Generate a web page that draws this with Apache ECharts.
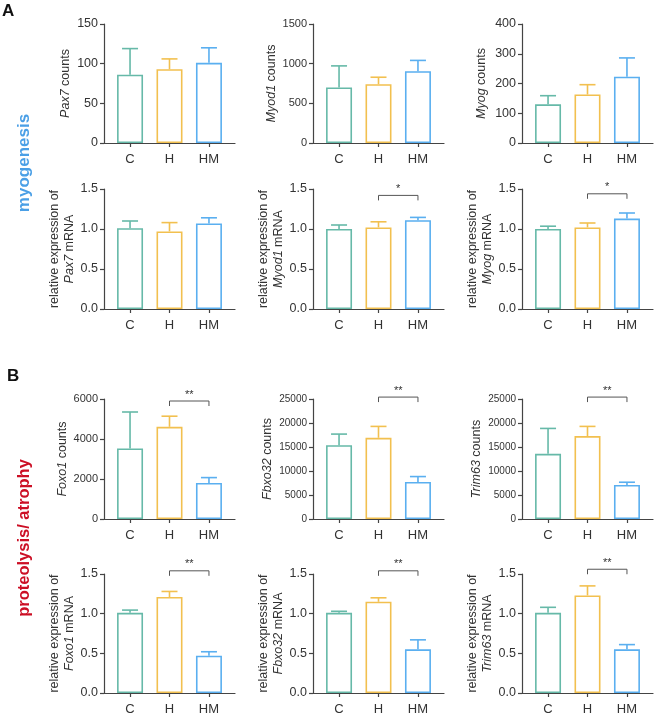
<!DOCTYPE html>
<html>
<head>
<meta charset="utf-8">
<script src="https://cdn.jsdelivr.net/npm/echarts@6/dist/echarts.min.js"></script>
<style>
  html, body { margin: 0; padding: 0; background: #fff; }
  #chart { width: 658px; height: 716px; }
</style>
</head>
<body>
<div id="chart"></div>
<script>
const categories = ["C", "H", "HM"];
const groupColors = ["#66b9a8", "#f2c04f", "#5aaff0"];

// means and upper error (SD)
const pax7Counts = [86, 93, 101];
const pax7CountsErr = [33, 13, 19];
const myod1Counts = [700, 741, 905];
const myod1CountsErr = [272, 88, 136];
const myogCounts = [130, 163, 223];
const myogCountsErr = [29, 33, 63];

const pax7Mrna = [1.01, 0.97, 1.07];
const pax7MrnaErr = [0.09, 0.11, 0.07];
const myod1Mrna = [1.0, 1.02, 1.11];
const myod1MrnaErr = [0.05, 0.07, 0.035];
const myogMrna = [1.0, 1.02, 1.13];
const myogMrnaErr = [0.035, 0.055, 0.07];

const foxo1Counts = [3530, 4610, 1800];
const foxo1CountsErr = [1820, 530, 270];
const fbxo32Counts = [15390, 16920, 7730];
const fbxo32CountsErr = [2300, 2370, 1110];
const trim63Counts = [13580, 17270, 7100];
const trim63CountsErr = [5290, 2020, 560];

const foxo1Mrna = [1.01, 1.21, 0.47];
const foxo1MrnaErr = [0.035, 0.07, 0.05];
const fbxo32Mrna = [1.01, 1.15, 0.55];
const fbxo32MrnaErr = [0.02, 0.05, 0.12];
const trim63Mrna = [1.01, 1.23, 0.55];
const trim63MrnaErr = [0.07, 0.12, 0.06];

// significance between H and HM: [label, height in data units]
const sigMyod1Mrna = ["*", 1.42];
const sigMyogMrna = ["*", 1.44];
const sigFoxo1Counts = ["**", 5900];
const sigFbxo32Counts = ["**", 25400];
const sigTrim63Counts = ["**", 25400];
const sigFoxo1Mrna = ["**", 1.54];
const sigFbxo32Mrna = ["**", 1.54];
const sigTrim63Mrna = ["**", 1.56];

const panels = [
  { gene: "Pax7", kind: "counts", vals: pax7Counts, err: pax7CountsErr, max: 150, step: 50 },
  { gene: "Myod1", kind: "counts", vals: myod1Counts, err: myod1CountsErr, max: 1500, step: 500 },
  { gene: "Myog", kind: "counts", vals: myogCounts, err: myogCountsErr, max: 400, step: 100 },
  { gene: "Pax7", kind: "mrna", vals: pax7Mrna, err: pax7MrnaErr, max: 1.5, step: 0.5 },
  { gene: "Myod1", kind: "mrna", vals: myod1Mrna, err: myod1MrnaErr, max: 1.5, step: 0.5, sig: sigMyod1Mrna },
  { gene: "Myog", kind: "mrna", vals: myogMrna, err: myogMrnaErr, max: 1.5, step: 0.5, sig: sigMyogMrna },
  { gene: "Foxo1", kind: "counts", vals: foxo1Counts, err: foxo1CountsErr, max: 6000, step: 2000, sig: sigFoxo1Counts },
  { gene: "Fbxo32", kind: "counts", vals: fbxo32Counts, err: fbxo32CountsErr, max: 25000, step: 5000, sig: sigFbxo32Counts },
  { gene: "Trim63", kind: "counts", vals: trim63Counts, err: trim63CountsErr, max: 25000, step: 5000, sig: sigTrim63Counts },
  { gene: "Foxo1", kind: "mrna", vals: foxo1Mrna, err: foxo1MrnaErr, max: 1.5, step: 0.5, sig: sigFoxo1Mrna },
  { gene: "Fbxo32", kind: "mrna", vals: fbxo32Mrna, err: fbxo32MrnaErr, max: 1.5, step: 0.5, sig: sigFbxo32Mrna },
  { gene: "Trim63", kind: "mrna", vals: trim63Mrna, err: trim63MrnaErr, max: 1.5, step: 0.5, sig: sigTrim63Mrna },
];

const FONT = "Liberation Sans, Arial, sans-serif";
const colLeft = [104, 313, 522];
const rowTop = [24, 189, 399, 574];
const rowHeight = [119, 120, 120, 121];
const plotWidth = 131;

const grids = [], xAxes = [], yAxes = [], series = [];

panels.forEach((p, i) => {
  const r = Math.floor(i / 3), c = i % 3;
  grids.push({ left: colLeft[c], top: rowTop[r], width: plotWidth, height: rowHeight[r] });

  xAxes.push({
    gridIndex: i, type: "value", min: -0.66, max: 2.66,
    axisLine: { show: true, onZero: false, lineStyle: { color: "#444", width: 1.2 } },
    axisTick: { show: true, customValues: [0, 1, 2], length: 4, lineStyle: { color: "#444", width: 1.2 } },
    axisLabel: {
      customValues: [0, 1, 2], formatter: (v) => categories[Math.round(v)],
      margin: 10, fontSize: 13, color: "#333", fontFamily: FONT,
    },
    splitLine: { show: false },
  });

  const big = p.max >= 10000;
  const name = p.kind === "counts"
    ? "{i|" + p.gene + "} counts"
    : "relative expression of\n{i|" + p.gene + "} mRNA";
  yAxes.push({
    gridIndex: i, type: "value", min: 0, max: p.max, interval: p.step,
    name: name, nameLocation: "middle", nameRotate: 90,
    nameGap: p.kind === "counts" ? (big ? 37 : (p.max >= 400 ? 33 : 30)) : 26,
    nameTextStyle: {
      fontSize: 12.5, color: "#333", fontFamily: FONT, lineHeight: 15,
      rich: { i: { fontStyle: "italic", fontSize: 12.5, color: "#333", fontFamily: FONT } },
    },
    axisLine: { show: true, onZero: false, lineStyle: { color: "#444", width: 1.2 } },
    axisTick: { show: true, length: 4, lineStyle: { color: "#444", width: 1.2 } },
    axisLabel: {
      margin: 6, fontSize: big ? 10 : (p.max >= 1000 ? 11 : 12.5), color: "#333", fontFamily: FONT,
      formatter: (v) => (p.kind === "mrna" ? v.toFixed(1) : String(v)),
    },
    splitLine: { show: false },
  });

  series.push({
    type: "bar", xAxisIndex: i, yAxisIndex: i, barWidth: 26,
    data: p.vals.map((v, k) => ({
      value: [k, v],
      itemStyle: { color: "#fff", borderColor: groupColors[k], borderWidth: 1.6 },
    })),
    silent: true,
  });

  series.push({
    type: "custom", xAxisIndex: i, yAxisIndex: i, silent: true, z: 3,
    data: p.vals.map((v, k) => [k, v, v + p.err[k]]),
    encode: { x: 0, y: [1, 2] },
    renderItem: (params, api) => {
      const k = api.value(0);
      const a = api.coord([k, api.value(1)]);
      const b = api.coord([k, api.value(2)]);
      const style = { stroke: groupColors[k], lineWidth: 1.6 };
      return {
        type: "group",
        children: [
          { type: "line", shape: { x1: a[0], y1: a[1], x2: b[0], y2: b[1] }, style },
          { type: "line", shape: { x1: b[0] - 8, y1: b[1], x2: b[0] + 8, y2: b[1] }, style },
        ],
      };
    },
  });

  if (p.sig) {
    series.push({
      type: "custom", xAxisIndex: i, yAxisIndex: i, silent: true, clip: false,
      data: [[1, 2, p.sig[1]]],
      encode: { x: [0, 1], y: 2 },
      renderItem: (params, api) => {
        const a = api.coord([api.value(0), api.value(2)]);
        const b = api.coord([api.value(1), api.value(2)]);
        return {
          type: "group",
          children: [
            {
              type: "polyline",
              shape: { points: [[a[0], a[1] + 5], a, b, [b[0], b[1] + 5]] },
              style: { stroke: "#555", lineWidth: 1, fill: null },
            },
            {
              type: "text",
              style: {
                x: (a[0] + b[0]) / 2, y: a[1] - 1, text: p.sig[0],
                align: "center", verticalAlign: "bottom",
                fontSize: 11, fill: "#333", fontFamily: FONT,
              },
            },
          ],
        };
      },
    });
  }
});

const chart = echarts.init(document.getElementById("chart"));
chart.setOption({
  animation: false,
  backgroundColor: "#fff",
  grid: grids,
  xAxis: xAxes,
  yAxis: yAxes,
  series: series,
  graphic: [
    { type: "text", left: 2, top: 3, style: { text: "A", fontSize: 17, fontWeight: "bold", fill: "#111", fontFamily: FONT } },
    { type: "text", left: 7, top: 368, style: { text: "B", fontSize: 17, fontWeight: "bold", fill: "#111", fontFamily: FONT } },
    {
      type: "text", x: 24, y: 163, rotation: Math.PI / 2,
      style: { text: "myogenesis", fontSize: 17, fontWeight: "bold", fill: "#4a9fe6", fontFamily: FONT, align: "center", verticalAlign: "middle" },
    },
    {
      type: "text", x: 24, y: 538, rotation: Math.PI / 2,
      style: { text: "proteolysis/ atrophy", fontSize: 16.5, fontWeight: "bold", fill: "#cc0f25", fontFamily: FONT, align: "center", verticalAlign: "middle" },
    },
  ],
});

window.addEventListener("resize", () => chart.resize());
</script>
</body>
</html>
